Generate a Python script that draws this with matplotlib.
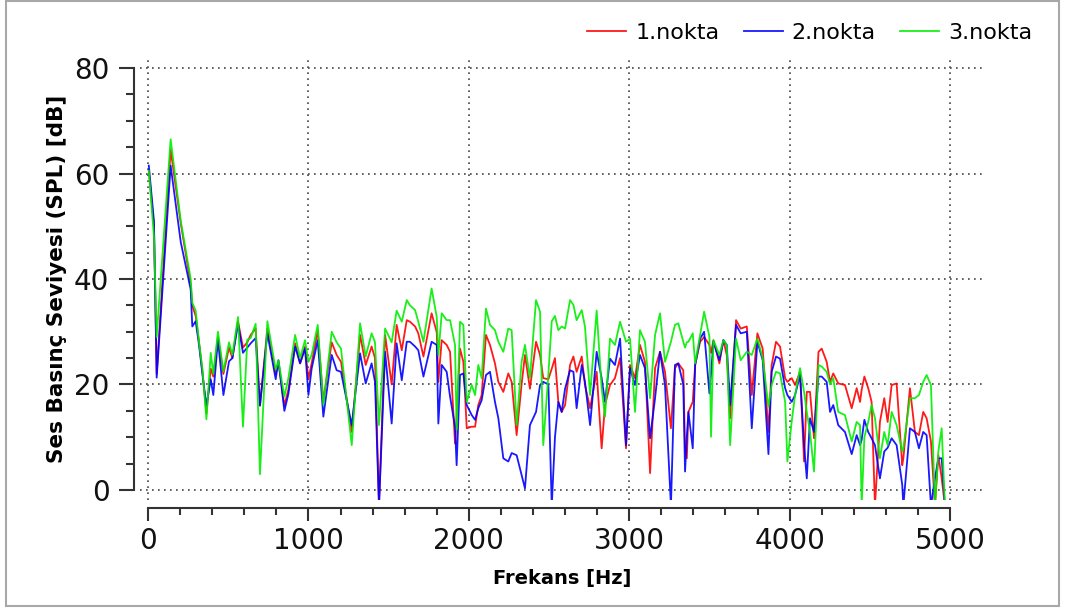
import matplotlib
matplotlib.use("Agg")
import matplotlib.pyplot as plt
from matplotlib.ticker import FixedLocator
from matplotlib.patches import Rectangle

freq = [5, 37, 54, 141, 204, 266, 276, 297, 318, 339, 364, 391, 407, 436, 470, 505, 526, 561, 592, 619,
        640, 671, 698, 744, 796, 813, 850, 875, 917, 948, 979, 1000, 1020, 1058, 1093, 1145, 1176, 1203,
        1270, 1322, 1357, 1394, 1415, 1440, 1478, 1519, 1550, 1582, 1613, 1633, 1665, 1685, 1717, 1768,
        1800, 1810, 1831, 1862, 1883, 1914, 1924, 1945, 1966, 1987, 2018, 2039, 2059, 2080, 2107, 2132,
        2163, 2184, 2215, 2246, 2267, 2298, 2329, 2350, 2381, 2419, 2444, 2464, 2496, 2517, 2537, 2558,
        2579, 2600, 2631, 2652, 2672, 2704, 2724, 2756, 2797, 2828, 2849, 2880, 2911, 2943, 2980, 3005,
        3036, 3067, 3098, 3130, 3161, 3192, 3223, 3260, 3285, 3306, 3337, 3348, 3359, 3369, 3396, 3411,
        3442, 3467, 3500, 3510, 3525, 3562, 3587, 3608, 3629, 3666, 3695, 3733, 3764, 3799, 3832, 3868,
        3888, 3915, 3940, 3972, 3986, 4013, 4034, 4065, 4090, 4107, 4127, 4152, 4180, 4200, 4231, 4252,
        4272, 4303, 4345, 4387, 4418, 4439, 4449, 4466, 4490, 4511, 4532, 4563, 4590, 4611, 4636, 4667,
        4702, 4709, 4750, 4781, 4806, 4833, 4854, 4881, 4906, 4927, 4948, 4968, 4995]

spl_1 = [60.5, 50, 22, 64.5, 50.6, 39, 35, 33, 28, 22.5, 14.5, 23, 21.5, 29, 22, 27, 25, 32, 27, 28,
         29.4, 30.6, 16, 30.6, 21.9, 24.3, 16, 19, 27.8, 24, 27.2, 21, 24, 30.3, 16.8, 28, 25.6, 24.3,
         11, 29.4, 23.7, 27.2, 25, -3, 29.4, 20, 31.3, 26.5, 32.2, 31.9, 31, 29.7, 25.3, 33.5,
         29.9, 20.5, 28.4, 27.5, 26.2, 8.8, 14, 26.8, 24.3, 11.7, 12, 12, 16.1, 18, 29.4, 27.5,
         24, 20.5, 18.6, 22.1, 20.5, 10.4, 20, 25.6, 19.2, 28.1, 25.6, 21.2, 21, 23, 25, 16.7,
         14.8, 16.1, 23.7, 25.3, 22.4, 25.3, 19.9, 15.5, 22.4, 7.9, 16.1, 19.9, 21.2, 25, 7.9, 23.7,
         21.2, 27.5, 24.3, 3.2, 23.1, 26.2, 22.4, 11.7, 23.1, 24, 22.7, 8, 6, 14.8, 16.7, 23.7,
         28.1, 29, 27.5, 26, 28.4, 24, 28.4, 25.6, 13.6, 32.2, 30.6, 31, 18, 29.7, 26.8, 11,
         23.7, 28.1, 27.2, 21.2, 20.5, 21.2, 19.9, 22.4, 5.4, 18.6, 18.6, 9.8, 26.2, 26.8, 24.3, 20.5,
         22.1, 20.2, 19.9, 15.5, 19.3, 16.7, 19, 21.5, 19.3, 16.7, -3, 12.9, 17.4, 12.9, 19.9, 20.2,
         4.7, 6, 19.3, 11, 10.4, 14.8, 13.6, 9.2, -3, 6.6, 2.2, -3, -3]

spl_2 = [61.5, 51, 21.3, 61.5, 47, 38, 31, 32, 27.5, 22, 16, 21, 18, 28.5, 18, 24.4, 25, 31.5, 26, 27,
         27.8, 28.8, 16, 29.7, 21, 24.6, 15, 18.2, 27.2, 24, 26.8, 18, 23, 28.4, 13.9, 25.6, 22.7, 22.4,
         12.3, 25.9, 20.2, 24, 20.5, -3, 26.2, 12.6, 27.8, 20.8, 28.1, 28.1, 27.2, 26.5, 21.5, 28.1,
         27.5, 12.6, 23.7, 22.4, 17.7, 12, 4.7, 21.8, 22.1, 16.1, 14.2, 13.3, 15.5, 17, 21.8, 22.4,
         16.7, 13.6, 6, 5.4, 7, 6.6, 2.8, 0.3, 12.3, 14.8, 19.9, 20.5, 20, -3, 10, 16.7,
         14.8, 19.2, 22.7, 22.4, 15.5, 23.7, 20.5, 12.3, 26.2, 21.2, 16.7, 24.9, 23.7, 28.7, 8.5, 23.1,
         19.9, 25.6, 23.1, 9.8, 17.4, 26.2, 19.9, -3, 23.7, 24, 20, 3.5, 10, 14.8, 7.9, 23.7,
         28.7, 30, 18.3, 22, 28.1, 24.6, 28.4, 27.5, 16.1, 31.3, 29.7, 30, 11.7, 28.1, 24.6, 6.8,
         22.4, 25.3, 24.9, 19.3, 18, 16.7, 18, 21.8, 8.5, 2.2, 13.6, 11, 21.5, 21.5, 20.5, 14.8,
         16.1, 12.3, 11, 6.8, 10.4, 8.5, 9.5, 13.3, 11, 9.8, 8.5, 2.2, 7.3, 8, 9.8, 8.5,
         1, -3, 11.7, 11, 7.9, 11, 10.4, -3, 2.2, 6, 6, -3, -3]

spl_3 = [60.5, 48, 29, 66.5, 51, 40, 35.5, 34, 28, 23, 13.4, 26, 22, 30, 22.5, 28, 25.6, 32.8, 12, 28.5,
         28.8, 31.5, 3, 32, 22.8, 24.6, 17.7, 21.2, 29.4, 25, 28.4, 24.3, 25.6, 31.3, 16.1, 30, 28, 26.8,
         8.5, 31.6, 25.3, 29.7, 28, 12.3, 30.6, 28, 34, 31.9, 36, 35, 34.1, 31.9, 28.1, 38.2,
         32.8, 25.6, 33.5, 32.2, 32.2, 27.5, 11.4, 31.9, 31.3, 16.7, 19.9, 18, 23.7, 21.2, 34.4, 31.3,
         30.3, 28.1, 26.2, 30.6, 30.3, 12.3, 24.3, 27.5, 21.2, 36, 33.8, 8.5, 22, 32, 33, 30.3,
         31, 30.6, 36, 35.1, 32.2, 34.1, 31, 18, 34, 19.3, 13.9, 28.7, 27.5, 31.9, 28.1, 28.7,
         14.8, 30.3, 28.1, 17.4, 29.4, 33.5, 24.3, 28.1, 31.3, 31.6, 28.1, 27, 28, 28.1, 29.7, 24,
         29.4, 33.8, 29, 10.1, 28.4, 25.6, 28.4, 27.5, 8.5, 28.7, 24.6, 26.2, 25.6, 28.7, 25, 15.8,
         19.9, 22.4, 22.1, 16.7, 5.4, 13, 18, 23.1, 18.6, 14.8, 11, 3.5, 23.7, 23.4, 22.4, 20,
         21.2, 14.8, 14.2, 9.2, 12.9, 12.3, -3, 10, 12.9, 16.1, 13.6, 6, 11, 8.5, 14.8, 12.3,
         7.3, 8, 17.4, 17.4, 18, 20.5, 21.8, 19.9, -3, 7.3, 11.7, -3, -3]

series_labels = ["1.nokta", "2.nokta", "3.nokta"]
series_colors = ["#ff0000", "#0000ff", "#00ee00"]
x_ticks = [0, 1000, 2000, 3000, 4000, 5000]
x_minor = [200, 400, 600, 800, 1200, 1400, 1600, 1800, 2200, 2400, 2600, 2800,
           3200, 3400, 3600, 3800, 4200, 4400, 4600, 4800]
y_ticks = [0, 20, 40, 60, 80]
y_minor = [5, 10, 15, 25, 30, 35, 45, 50, 55, 65, 70, 75]

fig = plt.figure(figsize=(10.66, 6.14), dpi=100)
ax = fig.add_axes([140 / 1066, 114 / 614, 845 / 1066, 442 / 614])

for vals, lab, col in zip([spl_1, spl_2, spl_3], series_labels, series_colors):
    ax.plot(freq, vals, color=col, lw=1.3, label=lab, alpha=0.9)

ax.set_xlim(-50, 5218)
ax.set_ylim(-1.9, 81.9)
ax.set_xticks(x_ticks)
ax.set_yticks(y_ticks)
ax.xaxis.set_minor_locator(FixedLocator(x_minor))
ax.yaxis.set_minor_locator(FixedLocator(y_minor))

for s in ["top", "right"]:
    ax.spines[s].set_visible(False)
ax.spines["left"].set_position(("outward", 4))
ax.spines["bottom"].set_position(("outward", 5.5))
ax.spines["left"].set_bounds(0, 80)
ax.spines["bottom"].set_bounds(0, 5000)
for s in ["left", "bottom"]:
    ax.spines[s].set_linewidth(1.5)
    ax.spines[s].set_color("#333333")

ax.tick_params(axis="y", which="major", length=11, width=1.5, color="#333333",
               labelsize=20, pad=7, labelcolor="#111111")
ax.tick_params(axis="y", which="minor", length=6, width=1.5, color="#333333")
ax.tick_params(axis="x", which="major", length=9, width=1.5, color="#333333",
               labelsize=20, pad=5, labelcolor="#111111")
ax.tick_params(axis="x", which="minor", length=5, width=1.5, color="#333333")

ax.grid(True, which="major", color="#444444", linestyle=(0, (1, 2.6)), linewidth=1.2)
ax.set_axisbelow(True)

ax.set_xlabel("Frekans [Hz]", fontsize=14, fontweight="bold", labelpad=10)
ax.set_ylabel("Ses Basınç Seviyesi (SPL) [dB]", fontsize=15.5, fontweight="bold", labelpad=5)

fig.legend(loc="center right", bbox_to_anchor=(1032 / 1066, 1 - 33 / 614), ncol=3,
           frameon=False, fontsize=16, handlelength=1.75, handletextpad=0.4,
           columnspacing=1.1, borderpad=0, borderaxespad=0)

fig.patches.append(Rectangle((6 / 1066, 1 - 606 / 614), 1053 / 1066, 605 / 614,
                             transform=fig.transFigure, fill=False,
                             edgecolor="#a8a8a8", lw=1.5))

fig.savefig("out.png", dpi=100)
